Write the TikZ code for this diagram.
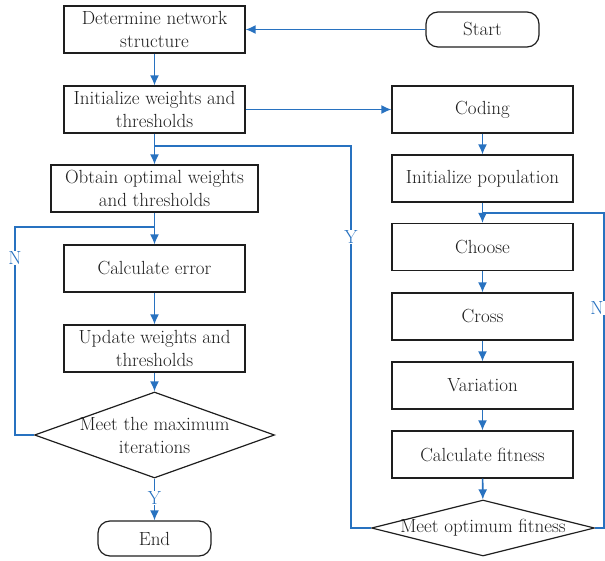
\documentclass[tikz,border=0pt]{standalone}
\usepackage{fontspec}
\usepackage{tikz}
\usetikzlibrary{arrows.meta,shapes.geometric}
\definecolor{flowblue}{RGB}{40,114,192}
\definecolor{boxgray}{RGB}{30,30,30}
\tikzset{>={Latex[length=10pt,width=9pt]}}
\tikzset{
  box/.style={draw=boxgray, line width=1.2pt, text=boxgray, minimum width=181, minimum height=47, inner sep=0pt, align=center, font=\fontsize{19}{23}\selectfont},
  term/.style={box, rounded corners=12pt, minimum width=113, minimum height=35},
  dmd/.style={diamond, draw=boxgray, line width=1.2pt, inner sep=0pt},
  dtext/.style={text=boxgray, align=center, font=\fontsize{19}{23}\selectfont},
  flow/.style={draw=flowblue, line width=1.6pt, ->},
  line/.style={draw=flowblue, line width=1.6pt},
  lab/.style={text=flowblue, fill=white, inner sep=1pt, font=\fontsize{19}{19}\selectfont}
}

\begin{document}
\begin{tikzpicture}[x=1pt,y=-1pt]
      \useasboundingbox (0,0) rectangle (605,561);
      % left column
      \node[box] (det) at (154.5,29.5) {Determine network\\structure};
      \node[box] (initw) at (154.5,109.5) {Initialize weights and\\thresholds};
      \node[box, minimum width=207] (obt) at (154.5,188.5) {Obtain optimal weights\\and thresholds};
      \node[box] (calc) at (154.5,268.5) {Calculate error};
      \node[box] (upd) at (154.5,348.5) {Update weights and\\thresholds};
      \node[dmd, minimum width=240, minimum height=86] (maxit) at (154.5,435) {};
      \node[dtext] (maxtxt) at (maxit) {Meet the maximum\\iterations};
      \node[term] (end) at (154.5,538.5) {End};
      % right column
      \node[term] (start) at (482.5,29.5) {Start};
      \node[box] (coding) at (482.5,109.5) {Coding};
      \node[box] (initp) at (482.5,178.5) {Initialize population};
      \node[box] (choose) at (482.5,247) {Choose};
      \node[box] (cross) at (482.5,316.5) {Cross};
      \node[box] (var) at (482.5,385.5) {Variation};
      \node[box] (calcf) at (482.5,454.5) {Calculate fitness};
      \node[dmd, minimum width=223, minimum height=56] (fit) at (483,528) {};
      \node[dtext] (fittxt) at (fit) {Meet optimum fitness};
      % turning points
      \coordinate (j1) at (154.5,146);
      \coordinate (j2) at (154.5,227);
      \coordinate (j3) at (482.5,213);
      \coordinate (yx) at (351,146);
      \coordinate (nx) at (15,227);
      \coordinate (nx2) at (604,213);
      % connectors
      \draw[flow] (start) -- (det);
      \draw[flow] (det) -- (initw);
      \draw[flow] (initw) -- (coding);
      \draw[flow] (initw) -- (obt);
      \draw[flow] (obt) -- (calc);
      \draw[flow] (calc) -- (upd);
      \draw[flow] (upd) -- (maxit);
      \draw[flow] (maxit) -- (end);
      \draw[line] (maxit.west) -| (nx) -- (j2);
      \draw[line] (fit.west) -| (yx) -- (j1);
      \draw[flow] (coding) -- (initp);
      \draw[flow] (initp) -- (choose);
      \draw[flow] (choose) -- (cross);
      \draw[flow] (cross) -- (var);
      \draw[flow] (var) -- (calcf);
      \draw[flow] (calcf) -- (fit);
      \draw[line] (fit.east) -| (nx2) -- (j3);
      % branch labels
      \node[lab] (ny) at (154.5,498) {Y};
      \node[lab] (nn) at (15,258) {N};
      \node[lab] (fy) at (351,237) {Y};
      \node[lab] (fn) at (597,308) {N};
\end{tikzpicture}
\end{document}
